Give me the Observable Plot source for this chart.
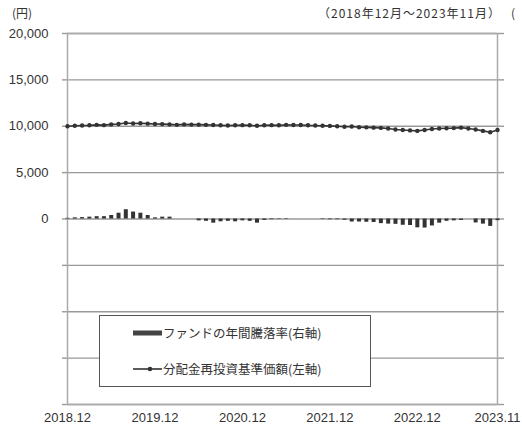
<!DOCTYPE html>
<html><head><meta charset="utf-8">
<script src="https://cdn.jsdelivr.net/npm/d3@7"></script>
<script src="https://cdn.jsdelivr.net/npm/@observablehq/plot@0.6"></script>
<style>
body{margin:0;background:#fff;width:522px;height:432px;overflow:hidden;font-family:"Liberation Sans","Noto Sans CJK JP",sans-serif;color:#333}
#wrap{position:relative;width:522px;height:432px}
.t{position:absolute;white-space:nowrap;font-family:"Noto Sans CJK JP",sans-serif;color:#333}
#legend{position:absolute;left:99px;top:315px;width:270px;height:70px;border:1.5px solid #555;background:#fff}
.row{position:absolute;left:33px;font-size:12.5px;font-family:"Noto Sans CJK JP",sans-serif;color:#333;display:flex;align-items:center;white-space:nowrap}
</style></head>
<body><div id="wrap">
<div class="t" style="left:12px;top:4px;font-size:12px">(円)</div>
<div class="t" style="left:318px;top:4px;font-size:12px;letter-spacing:1px">（2018年12月～2023年11月）</div>
<div class="t" style="left:511px;top:4px;font-size:12px">(</div>
<div id="chart" style="position:absolute;left:0;top:24px"></div>
<div id="legend">
  <div class="row" style="top:7px"><svg width="30" height="10"><rect x="0" y="2.5" width="29" height="5" fill="#444"/></svg><span>ファンドの年間騰落率(右軸)</span></div>
  <div class="row" style="top:43px"><svg width="30" height="10"><line x1="0" y1="5" x2="29" y2="5" stroke="#333" stroke-width="1.6"/><circle cx="17" cy="5" r="2.3" fill="#333"/></svg><span>分配金再投資基準価額(左軸)</span></div>
</div>
</div>
<script>
// month categories 2018.12 .. 2023.11
const months = [];
for (let y = 2018, m = 12; !(y === 2023 && m === 12); ) {
  months.push(`${y}.${String(m).padStart(2,"0")}`);
  m++; if (m > 12) { m = 1; y++; }
}
const xTickLabels = ["2018.12","2019.12","2020.12","2021.12","2022.12","2023.11"];
const yTicks = [-20000,-15000,-10000,-5000,0,5000,10000,15000,20000];

// 分配金再投資基準価額 (円, left axis)
const navValues = [10000,10050,10080,10100,10150,10120,10200,10250,10350,10300,10320,10280,
                   10250,10230,10200,10150,10200,10180,10170,10150,10130,10100,10080,10100,
                   10120,10100,10050,10100,10120,10100,10150,10130,10140,10100,10080,10050,
                   10040,10000,9950,9980,9900,9880,9850,9820,9750,9650,9600,9550,
                   9500,9600,9700,9750,9780,9800,9850,9750,9650,9500,9350,9600];
// ファンドの年間騰落率 (%, right axis)
const returnValues = [0.3,0.5,0.6,0.8,1.0,1.0,1.5,2.5,4.0,3.0,2.5,1.5,
                      0.5,0.8,0.8,0,0,0,-0.8,-1.0,-1.8,-1.2,-1.0,-1.2,
                      -0.8,-1.0,-1.8,-0.6,-0.3,-0.2,-0.2,0,0,0,0,-0.2,
                      -0.3,-0.3,-0.5,-1.3,-1.3,-1.4,-1.5,-2.0,-2.2,-2.3,-2.7,-2.8,
                      -3.8,-3.9,-3.0,-1.8,-1.0,-0.8,-0.6,0,-1.7,-2.2,-3.2,-0.7];
// right axis -80%..80% aligned with left -20,000..20,000
const rightToLeft = 20000 / 80;

const data = months.map((m, i) => ({m, nav: navValues[i], ret: returnValues[i]}));

const chart = Plot.plot({
  width: 522, height: 408,
  marginLeft: 67, marginRight: 25, marginTop: 9, marginBottom: 28,
  style: {fontFamily: "Liberation Sans, sans-serif", fontSize: "13px", color: "#333", background: "#fff"},
  x: {type: "point", domain: months, padding: 0, round: false},
  y: {domain: [-20000, 20000]},
  marks: [
    Plot.gridY(yTicks, {stroke: "#999", strokeOpacity: 1, strokeWidth: 1.4}),
    Plot.axisY(yTicks, {anchor: "left", tickSize: 5, tickPadding: 14, stroke: "#999", strokeWidth: 1.4,
      tickFormat: d => d >= 0 ? d3.format(",")(d) : "", label: null, fontSize: 13}),
    Plot.axisY(yTicks, {anchor: "right", tickSize: 6, stroke: "#999", strokeWidth: 1.4, tickFormat: () => "", label: null}),
    Plot.axisX(xTickLabels, {tickSize: 0, tickPadding: 8, label: null, fontSize: 13}),
    Plot.frame({stroke: "#aaa", strokeWidth: 1.5}),
    Plot.ruleX(data, {x: "m", y1: 0, y2: d => d.ret * rightToLeft, stroke: "#333", strokeWidth: 4}),
    Plot.line(data, {x: "m", y: "nav", stroke: "#333", strokeWidth: 1.6}),
    Plot.dot(data, {x: "m", y: "nav", r: 2.2, fill: "#333"})
  ]
});
document.getElementById("chart").appendChild(chart);
</script>
</body></html>
